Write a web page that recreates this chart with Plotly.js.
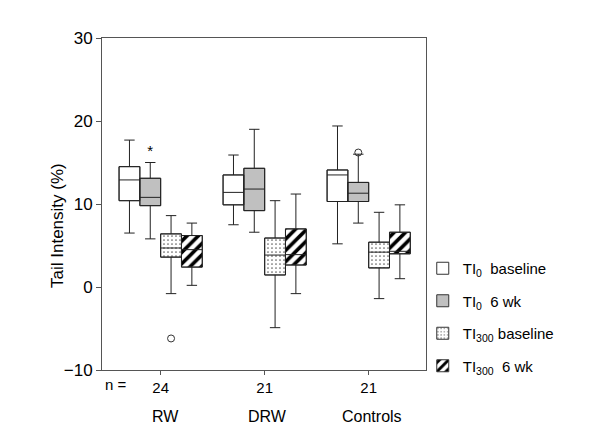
<!DOCTYPE html>
<html>
<head>
<meta charset="utf-8">
<script src="https://cdn.plot.ly/plotly-3.0.1.min.js"></script>
<style>html,body{margin:0;padding:0;background:#fff;}#chart{width:600px;height:437px;}</style>
</head>
<body>
<div id="chart"></div>
<script>
const groups = ['RW', 'DRW', 'Controls'];
const counts = ['24', '21', '21'];
const seriesNames = ['TI<sub>0</sub>  baseline', 'TI<sub>0</sub>  6 wk', 'TI<sub>300</sub> baseline', 'TI<sub>300</sub>  6 wk'];

// per series, values for [RW, DRW, Controls]
const upperWhisker = [[17.7, 15.9, 19.4], [15.0, 19.0, 16.0], [8.6, 10.4, 9.0], [7.7, 11.2, 9.9]];
const q3Values     = [[14.5, 13.5, 14.1], [13.1, 14.3, 12.6], [6.4, 5.9, 5.4], [6.2, 7.0, 6.6]];
const medianValues = [[12.9, 11.4, 13.5], [10.8, 11.8, 11.3], [4.7, 3.85, 4.2], [4.5, 3.9, 4.3]];
const q1Values     = [[10.4, 9.9, 10.3], [9.8, 9.2, 10.3], [3.6, 1.45, 2.3], [2.4, 2.65, 4.0]];
const lowerWhisker = [[6.5, 7.5, 5.2], [5.8, 6.6, 7.7], [-0.8, -4.9, -1.4], [0.2, -0.8, 1.0]];

// outliers: [series index, group index, value]
const outlierSeries = [2, 1];
const outlierGroup  = [0, 2];
const outlierValue  = [-6.2, 16.2];
// extreme (asterisk)
const extremeSeries = [1];
const extremeGroup  = [0];
const extremeValue  = [16.2];

const boxW = 0.2;
const offsets = [-0.3, -0.1, 0.1, 0.3];
const fills = [
  {color: '#ffffff'},
  {color: '#c0c0c0'},
  {color: '#ffffff', pattern: {shape: '.', size: 4, solidity: 0.15, fgcolor: '#666666', bgcolor: '#ffffff'}},
  {color: '#ffffff', pattern: {shape: '/', size: 8, solidity: 0.45, fgcolor: '#000000', bgcolor: '#ffffff'}}
];

const traces = [];
// patterned/fill bars for IQR (and legend)
seriesNames.forEach((name, s) => {
  const xs = groups.map((g, i) => i + offsets[s]);
  const marker = {color: fills[s].color, line: {color: '#333333', width: 1}};
  if (fills[s].pattern) marker.pattern = fills[s].pattern;
  traces.push({
    type: 'bar', name: name, x: xs,
    base: q1Values[s],
    y: q3Values[s].map((v, i) => v - q1Values[s][i]),
    width: boxW, marker: marker, legendgroup: 'g' + s,
    hoverinfo: 'skip'
  });
});
// box outlines, medians, whiskers
seriesNames.forEach((name, s) => {
  const xs = groups.map((g, i) => i + offsets[s]);
  traces.push({
    type: 'box', name: name, x: xs,
    q1: q1Values[s], median: medianValues[s], q3: q3Values[s],
    lowerfence: lowerWhisker[s], upperfence: upperWhisker[s],
    width: boxW, whiskerwidth: 0.5,
    fillcolor: 'rgba(0,0,0,0)',
    line: {color: '#222222', width: 1},
    showlegend: false, hoverinfo: 'skip'
  });
});
traces.push({
  type: 'scatter', mode: 'markers', showlegend: false,
  x: outlierSeries.map((s, k) => outlierGroup[k] + offsets[s]),
  y: outlierValue,
  marker: {symbol: 'circle-open', size: 7, color: '#333333', line: {width: 1}}
});
traces.push({
  type: 'scatter', mode: 'text', showlegend: false,
  x: extremeSeries.map((s, k) => extremeGroup[k] + offsets[s]),
  y: extremeValue,
  text: extremeValue.map(() => '*'),
  textposition: 'middle center',
  textfont: {size: 15, color: '#000', family: 'Liberation Sans, Arial, sans-serif'}
});

const annotations = [{
  xref: 'paper', yref: 'paper', x: (116 - 102) / 324, y: -15 / 332,
  text: 'n =', showarrow: false, xanchor: 'center', yanchor: 'middle',
  font: {size: 15, color: '#000'}
}, {
  xref: 'paper', yref: 'paper', x: (58 - 102) / 324, y: (370 - 226) / 332,
  text: 'Tail Intensity (%)', showarrow: false, textangle: -90,
  xanchor: 'center', yanchor: 'middle',
  font: {size: 17, color: '#000'}
}];
groups.forEach((g, i) => {
  annotations.push({
    xref: 'x', yref: 'paper', x: i + (i === 0 ? 0.05 : 0.03), y: -46 / 332,
    text: g, showarrow: false, xanchor: 'center', yanchor: 'middle',
    font: {size: 16, color: '#000'}
  });
});

const layout = {
  width: 600, height: 437,
  margin: {l: 102, r: 174, t: 38, b: 67},
  paper_bgcolor: '#fff', plot_bgcolor: '#fff',
  font: {family: 'Liberation Sans, Arial, sans-serif', color: '#000', size: 15},
  barmode: 'overlay', boxmode: 'overlay',
  showlegend: true,
  legend: {
    x: 0.99, xanchor: 'left', y: (370 - 252) / 332, yanchor: 'top',
    font: {size: 15}, tracegroupgap: 10, traceorder: 'grouped',
    bgcolor: 'rgba(0,0,0,0)'
  },
  xaxis: {
    range: [-0.564, 2.551], showgrid: false, zeroline: false,
    tickvals: [0, 1, 2], ticktext: counts,
    ticks: 'outside', ticklen: 4, tickcolor: '#555',
    showline: true, linecolor: '#555', linewidth: 1, mirror: true,
    tickfont: {size: 15}
  },
  yaxis: {
    range: [-10, 30], dtick: 10, showgrid: false, zeroline: false,
    ticks: 'outside', ticklen: 5, tickcolor: '#555',
    showline: true, linecolor: '#555', linewidth: 1, mirror: true,
    tickfont: {size: 17}
  },
  annotations: annotations
};

Plotly.newPlot('chart', traces, layout, {displayModeBar: false, staticPlot: true});
</script>
</body>
</html>
